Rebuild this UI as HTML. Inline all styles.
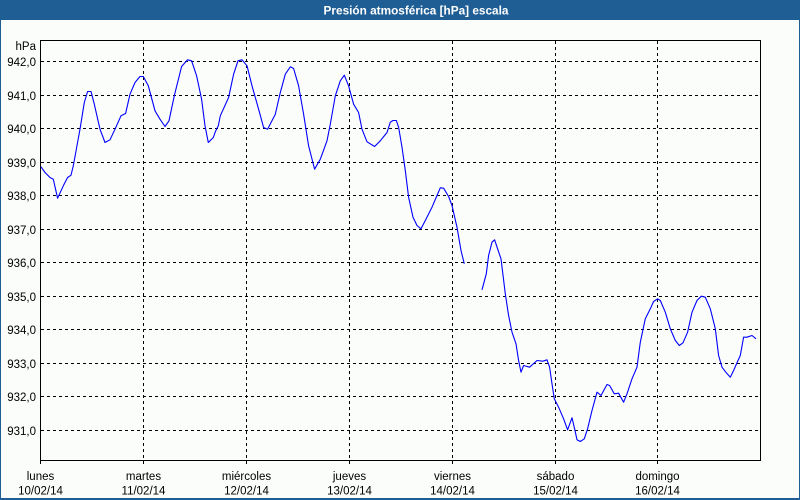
<!DOCTYPE html>
<html>
<head>
<meta charset="utf-8">
<style>
html,body{margin:0;padding:0;background:#fafdfa;}
svg{display:block;}
text{font-family:"Liberation Sans",Arial,sans-serif;}
</style>
</head>
<body>
<svg width="800" height="500" viewBox="0 0 800 500" xmlns="http://www.w3.org/2000/svg">
  <rect x="0" y="0" width="800" height="500" fill="#fafdfa"/>
  <!-- outer border -->
  <rect x="0.5" y="0.5" width="799" height="498" fill="none" stroke="#1f5e95" stroke-width="1"/>
  <line x1="0" y1="499.5" x2="800" y2="499.5" stroke="#1f5e95" stroke-width="1"/>
  <!-- title bar -->
  <rect x="0" y="0" width="800" height="20" fill="#1f5e95"/>
  <text x="416" y="14.5" font-size="11.8" font-weight="bold" fill="#ffffff" text-anchor="middle">Presión atmosférica [hPa] escala</text>

  <!-- horizontal grid -->
  <g stroke="#000" stroke-width="1" stroke-dasharray="3,3" fill="none">
    <line x1="41" y1="61.5" x2="760" y2="61.5"/>
    <line x1="41" y1="95.5" x2="760" y2="95.5"/>
    <line x1="41" y1="128.5" x2="760" y2="128.5"/>
    <line x1="41" y1="162.5" x2="760" y2="162.5"/>
    <line x1="41" y1="195.5" x2="760" y2="195.5"/>
    <line x1="41" y1="229.5" x2="760" y2="229.5"/>
    <line x1="41" y1="262.5" x2="760" y2="262.5"/>
    <line x1="41" y1="296.5" x2="760" y2="296.5"/>
    <line x1="41" y1="329.5" x2="760" y2="329.5"/>
    <line x1="41" y1="363.5" x2="760" y2="363.5"/>
    <line x1="41" y1="396.5" x2="760" y2="396.5"/>
    <line x1="41" y1="430.5" x2="760" y2="430.5"/>
  </g>
  <!-- vertical grid -->
  <g stroke="#000" stroke-width="1" stroke-dasharray="3,3" fill="none">
    <line x1="143.5" y1="41" x2="143.5" y2="464"/>
    <line x1="246.5" y1="41" x2="246.5" y2="464"/>
    <line x1="349.5" y1="41" x2="349.5" y2="464"/>
    <line x1="452.5" y1="41" x2="452.5" y2="464"/>
    <line x1="555.5" y1="41" x2="555.5" y2="464"/>
    <line x1="657.5" y1="41" x2="657.5" y2="464"/>
  </g>
  <!-- frame -->
  <rect x="40.5" y="40.5" width="720" height="420" fill="none" stroke="#000" stroke-width="1"/>
  <line x1="40.5" y1="460" x2="40.5" y2="464" stroke="#000" stroke-width="1"/>

  <!-- y labels -->
  <g font-size="11.5" fill="#000" text-anchor="end">
    <text x="36" y="50">hPa</text>
    <text x="36" y="66">942,0</text>
    <text x="36" y="100">941,0</text>
    <text x="36" y="133">940,0</text>
    <text x="36" y="167">939,0</text>
    <text x="36" y="200">938,0</text>
    <text x="36" y="234">937,0</text>
    <text x="36" y="267">936,0</text>
    <text x="36" y="301">935,0</text>
    <text x="36" y="334">934,0</text>
    <text x="36" y="368">933,0</text>
    <text x="36" y="401">932,0</text>
    <text x="36" y="435">931,0</text>
  </g>

  <!-- x labels -->
  <g font-size="11.5" fill="#000" text-anchor="middle">
    <text x="40.5" y="480">lunes</text><text x="40.5" y="494.5">10/02/14</text>
    <text x="143.5" y="480">martes</text><text x="143.5" y="494.5">11/02/14</text>
    <text x="246.5" y="480">miércoles</text><text x="246.5" y="494.5">12/02/14</text>
    <text x="349.5" y="480">jueves</text><text x="349.5" y="494.5">13/02/14</text>
    <text x="452.5" y="480">viernes</text><text x="452.5" y="494.5">14/02/14</text>
    <text x="555.5" y="480">sábado</text><text x="555.5" y="494.5">15/02/14</text>
    <text x="657.5" y="480">domingo</text><text x="657.5" y="494.5">16/02/14</text>
  </g>

  <!-- series -->
  <g fill="none" stroke="#0000ff" stroke-width="1.1" stroke-linejoin="round">
    <polyline points="41,166.8 45,172.5 50,177.5 53.3,179.2 57.6,198.2 63.3,185.8 67.6,177.5 71,175.2 73.3,165.8 80,129.2 84.3,102.5 87.6,91.5 91,91.5 94.3,104.2 100,129.2 105,142.5 110,139.8 115,129.2 121,115.8 125.6,113.5 130,94.2 135,82.5 140,76.5 143.3,76.5 148.3,85.8 155,110.8 160,119.2 165,126.5 169,120.8 174.3,95.8 181.6,66.5 187.6,59.8 191.6,60.8 196.6,75.8 201.6,99.2 205,125.8 208.3,142.5 213.3,137.5 215.3,131.8 218.3,125.8 220.3,115.8 228.6,97.5 233.6,74.2 238,60.8 242,59.8 247,65.8 252,85.8 258.6,109.2 263.6,127.5 267.6,129.2 275.3,114.2 280.3,92.5 285.3,74.2 290.3,66.8 293.6,68.5 298.6,85.8 303.6,114.2 308.6,145.8 314.6,169.2 320.3,159.2 327,140.8 330.3,124.2 335.3,95.8 340.3,80.8 344.3,75.2 348.6,85.8 353.6,104.2 358.6,112.5 362,129.2 367,141.8 374.6,146.5 380.3,140.8 387,132.5 390.3,122.2 393,120.5 396.3,120.5 398.6,127.2 402,147.2 405.3,170.5 408.6,197.2 413,217.2 417,225.5 421,228.8 425.3,220.5 432,207.2 437,195.5 440.3,187.8 443.6,188.2 448.6,196.5 452,205.5 457,227.2 461,250.5 464.3,263.8"/>
    <polyline points="482,289.8 486.3,273.8 488.6,255.5 492,242.2 494.6,239.8 497.6,248.8 501,258.8 505.3,293.8 508.6,315.5 512,332.2 516,343.8 518.6,360.5 521,372.2 523.6,365.5 529.6,367.2 537,360.5 543,361.2 547,359.8 549.6,367.2 552,383.8 554.3,398.8 558.6,407.2 563.6,418.8 567.6,429.8 572,417.8 574.6,428.8 577,439.8 580.3,441.5 584.3,438.8 587.6,428.8 592,410.5 597,392.2 601,395.5 607,384.5 609.6,385.5 614.3,393.8 618.6,393.2 623.6,402.2 627,393.8 632,378.8 637,367.2 640.3,342.2 645.3,318.8 650.3,308.8 653.6,301.5 657.6,298.8 660.3,300.5 665.3,312.2 670.3,328.8 675.3,340.5 679.3,345.5 683,342.8 687.6,332.2 692,312.2 697,300.5 701.3,296.2 705.3,297.2 710.3,308.8 715.3,328.8 718.6,355.5 722,367.2 726.3,372.8 730.3,377.2 733.6,370.5 738,360.5 740.3,355.5 743.6,337.2 747,337.2 752,335.5 756,338.8"/>
  </g>
</svg>
</body>
</html>
